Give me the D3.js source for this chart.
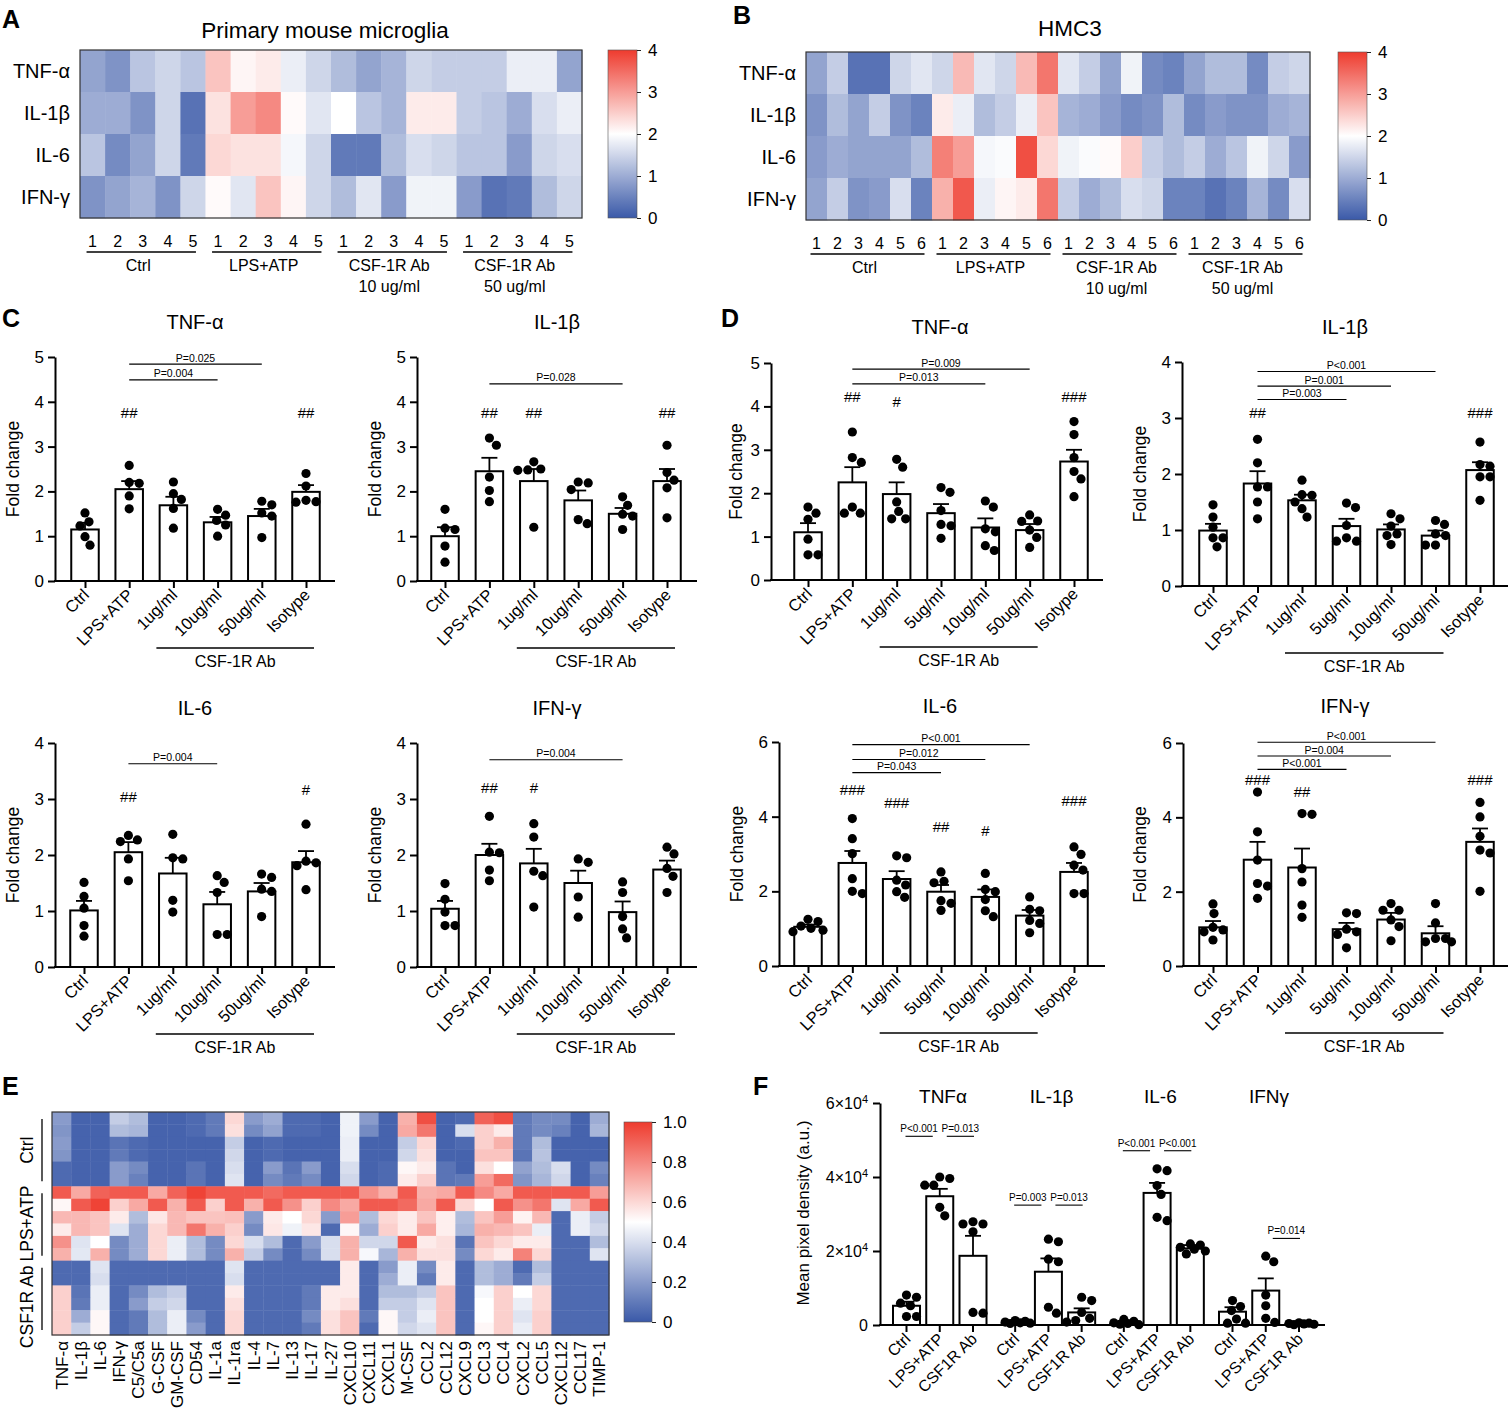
<!DOCTYPE html>
<html>
<head>
<meta charset="utf-8">
<script src="https://cdn.jsdelivr.net/npm/d3@7/dist/d3.min.js"></script>
<style>
  body { margin: 0; background: #fff; }
  svg { font-family: Arial, "Liberation Sans", Helvetica, sans-serif; }
</style>
</head>
<body>
<svg id="fig" width="1510" height="1418"></svg>
<script>
// ---------- data: panels A / B (fold change heatmaps) ----------
var heatRows = ["TNF-α", "IL-1β", "IL-6", "IFN-γ"];
var heatGroups = [["Ctrl"], ["LPS+ATP"], ["CSF-1R Ab", "10 ug/ml"], ["CSF-1R Ab", "50 ug/ml"]];
var mouseReps = ["1", "2", "3", "4", "5"];
var hmc3Reps = ["1", "2", "3", "4", "5", "6"];
var foldTicks = [0, 1, 2, 3, 4];

var mouseHeat = [
  [0.9, 0.7, 1.3, 1.5, 1.3, 2.6, 2.1, 2.2, 1.8, 1.5, 1.2, 0.9, 1.1, 1.5, 1.4, 1.4, 1.4, 1.8, 1.8, 0.9],
  [1.0, 1.0, 0.7, 1.5, 0.3, 2.3, 3.0, 3.2, 2.05, 1.7, 2.0, 1.3, 1.1, 2.2, 2.2, 1.4, 1.3, 1.0, 1.6, 1.8],
  [1.3, 0.6, 0.9, 1.5, 0.4, 2.4, 2.3, 2.3, 1.9, 1.5, 0.4, 0.4, 1.2, 1.6, 1.5, 1.3, 1.3, 0.8, 1.5, 1.6],
  [0.7, 0.9, 1.1, 0.7, 1.5, 2.05, 1.7, 2.6, 2.1, 1.5, 1.2, 1.7, 0.8, 1.85, 1.85, 0.8, 0.3, 0.4, 1.2, 1.5]
];
var hmc3Heat = [
  [0.9, 1.4, 0.3, 0.3, 1.5, 1.7, 1.5, 2.7, 1.7, 1.5, 2.7, 3.4, 1.7, 1.4, 0.9, 1.85, 0.6, 0.5, 0.9, 1.2, 1.2, 0.6, 1.4, 1.5],
  [0.7, 1.2, 0.9, 1.4, 0.7, 0.5, 2.2, 1.8, 1.2, 1.4, 1.8, 2.6, 1.1, 1.0, 0.8, 0.6, 0.7, 1.2, 0.6, 0.8, 0.7, 0.7, 1.0, 1.1],
  [0.8, 1.0, 0.9, 0.9, 0.9, 1.2, 3.3, 3.0, 1.9, 1.95, 3.8, 2.4, 1.85, 1.95, 2.05, 2.5, 1.4, 1.2, 1.4, 1.0, 1.3, 1.85, 1.5, 0.8],
  [0.9, 1.4, 0.7, 0.8, 1.6, 0.5, 2.8, 3.7, 1.8, 2.1, 2.2, 3.4, 1.4, 1.0, 1.2, 1.6, 1.5, 0.5, 0.5, 0.3, 0.5, 1.1, 0.6, 1.6]
];

// ---------- data: panel C (primary mouse microglia) ----------
var cCats = ["Ctrl", "LPS+ATP", "1ug/ml", "10ug/ml", "50ug/ml", "Isotype"];

var cTnfMean = [1.15, 2.05, 1.69, 1.31, 1.45, 1.99];
var cTnfSem = [0.15, 0.18, 0.19, 0.12, 0.16, 0.15];
var cTnfPts = [[1.52, 1.32, 1.23, 0.99, 0.80], [2.58, 2.20, 2.18, 1.90, 1.61], [2.21, 1.95, 1.82, 1.62, 1.18],
  [1.60, 1.47, 1.35, 1.25, 1.00], [1.78, 1.70, 1.52, 1.45, 0.97], [2.40, 2.12, 1.80, 1.77, 1.76]];
var cTnfHash = [[1, "##", 3.77], [5, "##", 3.77]];
var cTnfP = [[1, 4, 4.84, "P=0.025"], [1, 3, 4.49, "P=0.004"]];

var cIl1bMean = [1.0, 2.45, 2.23, 1.8, 1.5, 2.23];
var cIl1bSem = [0.2, 0.3, 0.27, 0.22, 0.13, 0.27];
var cIl1bPts = [[1.60, 1.18, 1.15, 0.78, 0.42], [3.19, 3.03, 2.32, 2.02, 1.77], [2.66, 2.50, 2.48, 2.47, 1.20],
  [2.21, 2.19, 2.04, 1.37, 1.28], [1.88, 1.69, 1.49, 1.45, 1.15], [3.03, 2.42, 2.25, 2.08, 1.41]];
var cIl1bHash = [[1, "##", 3.77], [2, "##", 3.77], [5, "##", 3.77]];
var cIl1bP = [[1, 4, 4.4, "P=0.028"]];

var cIl6Mean = [1.01, 2.05, 1.67, 1.12, 1.35, 1.87];
var cIl6Sem = [0.17, 0.18, 0.28, 0.22, 0.15, 0.2];
var cIl6Pts = [[1.51, 1.26, 1.05, 0.74, 0.55], [2.35, 2.27, 2.24, 1.93, 1.54], [2.37, 1.95, 1.93, 1.19, 0.98],
  [1.63, 1.51, 1.33, 0.58, 0.58], [1.66, 1.60, 1.39, 1.35, 0.90], [2.55, 1.89, 1.86, 1.81, 1.38]];
var cIl6Hash = [[1, "##", 3.04], [5, "#", 3.17]];
var cIl6P = [[1, 3, 3.63, "P=0.004"]];

var cIfngMean = [1.04, 2.0, 1.85, 1.5, 0.98, 1.74];
var cIfngSem = [0.14, 0.2, 0.26, 0.22, 0.19, 0.16];
var cIfngPts = [[1.49, 1.21, 0.98, 0.74, 0.74], [2.69, 2.05, 2.04, 1.73, 1.54], [2.56, 2.32, 1.71, 1.63, 1.07],
  [1.93, 1.87, 1.25, 0.89], [1.52, 1.33, 0.90, 0.68, 0.52], [2.14, 2.02, 1.76, 1.62, 1.33]];
var cIfngHash = [[1, "##", 3.2], [2, "#", 3.2]];
var cIfngP = [[1, 4, 3.7, "P=0.004"]];

// ---------- data: panel D (HMC3) ----------
var dCats = ["Ctrl", "LPS+ATP", "1ug/ml", "5ug/ml", "10ug/ml", "50ug/ml", "Isotype"];

var dTnfMean = [1.1, 2.25, 1.98, 1.54, 1.21, 1.15, 2.73];
var dTnfSem = [0.21, 0.35, 0.27, 0.21, 0.21, 0.14, 0.27];
var dTnfPts = [[1.68, 1.54, 1.40, 0.94, 0.58, 0.58], [3.41, 2.82, 2.71, 1.68, 1.54, 1.54], [2.78, 2.60, 1.80, 1.58, 1.41, 1.41],
  [2.13, 2.02, 1.60, 1.28, 1.25, 0.96], [1.82, 1.68, 1.18, 1.11, 0.79, 0.68], [1.50, 1.36, 1.35, 1.15, 0.98, 0.75],
  [3.65, 3.35, 2.82, 2.50, 2.33, 1.92]];
var dTnfHash = [[1, "##", 4.23], [2, "#", 4.1], [6, "###", 4.23]];
var dTnfP = [[1, 5, 4.86, "P=0.009"], [1, 4, 4.52, "P=0.013"]];

var dIl1bMean = [0.99, 1.83, 1.53, 1.07, 1.01, 0.9, 2.07];
var dIl1bSem = [0.12, 0.22, 0.1, 0.13, 0.09, 0.09, 0.14];
var dIl1bPts = [[1.45, 1.23, 1.05, 0.86, 0.86, 0.70], [2.62, 2.20, 1.77, 1.77, 1.50, 1.20], [1.89, 1.63, 1.62, 1.50, 1.38, 1.23],
  [1.48, 1.40, 1.08, 0.86, 0.80, 0.80], [1.29, 1.20, 1.07, 0.93, 0.90, 0.74], [1.17, 1.10, 0.93, 0.90, 0.73, 0.73],
  [2.57, 2.17, 2.14, 1.95, 1.95, 1.53]];
var dIl1bHash = [[1, "##", 3.09], [6, "###", 3.09]];
var dIl1bP = [[1, 5, 3.83, "P<0.001"], [1, 4, 3.57, "P=0.001"], [1, 3, 3.33, "P=0.003"]];

var dIl6Mean = [1.05, 2.76, 2.33, 1.99, 1.85, 1.35, 2.52];
var dIl6Sem = [0.06, 0.32, 0.21, 0.18, 0.2, 0.15, 0.24];
var dIl6Pts = [[1.25, 1.19, 1.07, 1.01, 0.96, 0.92], [3.95, 3.41, 3.01, 2.34, 2.00, 1.94], [2.95, 2.90, 2.30, 2.17, 1.99, 1.84],
  [2.52, 2.27, 2.23, 1.75, 1.68, 1.49], [2.48, 2.05, 1.99, 1.78, 1.48, 1.32], [1.85, 1.52, 1.48, 1.22, 1.14, 0.89],
  [3.19, 2.99, 2.70, 2.57, 1.94, 1.94]];
var dIl6Hash = [[1, "###", 4.73], [2, "###", 4.39], [3, "##", 3.74], [4, "#", 3.64], [6, "###", 4.42]];
var dIl6P = [[1, 5, 5.93, "P<0.001"], [1, 4, 5.53, "P=0.012"], [1, 3, 5.18, "P=0.043"]];

var dIfngMean = [1.04, 2.86, 2.65, 0.99, 1.25, 0.88, 3.34];
var dIfngSem = [0.17, 0.48, 0.51, 0.17, 0.18, 0.19, 0.36];
var dIfngPts = [[1.67, 1.41, 1.04, 0.97, 0.92, 0.70], [4.68, 3.61, 2.85, 2.22, 2.15, 1.82], [4.10, 4.08, 2.62, 2.26, 1.64, 1.31],
  [1.43, 1.41, 0.99, 0.92, 0.85, 0.49], [1.68, 1.50, 1.50, 1.24, 1.06, 0.68], [1.68, 1.16, 0.74, 0.74, 0.65, 0.65],
  [4.40, 4.01, 3.49, 3.12, 3.04, 2.01]];
var dIfngHash = [[1, "###", 5.01], [2, "##", 4.68], [6, "###", 5.01]];
var dIfngP = [[1, 5, 6.02, "P<0.001"], [1, 4, 5.65, "P=0.004"], [1, 3, 5.29, "P<0.001"]];

// ---------- data: panel E (cytokine array, normalised) ----------
var eCols = ["TNF-α", "IL-1β", "IL-6", "IFN-γ", "C5/C5a", "G-CSF", "GM-CSF", "CD54", "IL-1a", "IL-1ra", "IL-4", "IL-7",
  "IL-13", "IL-17", "IL-27", "CXCL10", "CXCL11", "CXCL1", "M-CSF", "CCL2", "CCL12", "CXCL9", "CCL3", "CCL4",
  "CXCL2", "CCL5", "CXCL12", "CCL17", "TIMP-1"];
var eGroups = ["Ctrl", "LPS+ATP", "CSF1R Ab"];
var eTicks = [0, 0.2, 0.4, 0.6, 0.8, 1.0];
var eHeat = [
  [0.2, 0.03, 0.03, 0.35, 0.3, 0.03, 0.03, 0.05, 0.1, 0.6, 0.2, 0.25, 0.05, 0.05, 0.03, 0.46, 0.2, 0.03, 0.7, 0.95, 0.03, 0.05, 0.9, 0.95, 0.1, 0.15, 0.15, 0.03, 0.25],
  [0.18, 0.03, 0.03, 0.3, 0.28, 0.03, 0.03, 0.05, 0.1, 0.58, 0.15, 0.22, 0.05, 0.05, 0.03, 0.46, 0.15, 0.03, 0.72, 0.85, 0.03, 0.4, 0.62, 0.55, 0.1, 0.15, 0.12, 0.03, 0.28],
  [0.2, 0.03, 0.03, 0.08, 0.05, 0.03, 0.03, 0.03, 0.03, 0.35, 0.03, 0.05, 0.03, 0.03, 0.03, 0.45, 0.03, 0.03, 0.35, 0.6, 0.03, 0.05, 0.62, 0.7, 0.1, 0.3, 0.03, 0.03, 0.03],
  [0.18, 0.03, 0.03, 0.1, 0.05, 0.03, 0.03, 0.03, 0.03, 0.38, 0.03, 0.05, 0.03, 0.03, 0.03, 0.45, 0.03, 0.03, 0.38, 0.58, 0.03, 0.03, 0.65, 0.65, 0.08, 0.32, 0.03, 0.03, 0.03],
  [0.05, 0.03, 0.03, 0.2, 0.15, 0.03, 0.03, 0.08, 0.03, 0.4, 0.03, 0.2, 0.08, 0.2, 0.03, 0.4, 0.03, 0.05, 0.52, 0.55, 0.08, 0.03, 0.58, 0.5, 0.22, 0.3, 0.4, 0.03, 0.15],
  [0.05, 0.03, 0.03, 0.2, 0.12, 0.03, 0.03, 0.08, 0.03, 0.42, 0.03, 0.15, 0.1, 0.15, 0.03, 0.38, 0.03, 0.05, 0.55, 0.62, 0.08, 0.1, 0.75, 0.88, 0.18, 0.28, 0.38, 0.03, 0.12],
  [0.92, 0.72, 0.9, 0.92, 0.92, 0.72, 0.9, 0.98, 0.92, 0.92, 0.92, 0.88, 0.92, 0.92, 0.92, 0.92, 0.78, 0.7, 0.92, 0.7, 0.72, 0.92, 0.8, 0.72, 0.92, 0.92, 0.92, 0.92, 0.75],
  [0.52, 0.92, 0.98, 0.62, 0.72, 0.92, 0.7, 0.92, 0.62, 0.92, 0.7, 0.92, 0.78, 0.62, 0.8, 0.72, 0.92, 0.92, 0.88, 0.72, 0.92, 0.6, 0.5, 0.92, 0.78, 0.85, 0.42, 0.72, 0.92],
  [0.68, 0.68, 0.65, 0.55, 0.3, 0.56, 0.68, 0.65, 0.65, 0.66, 0.2, 0.55, 0.5, 0.6, 0.2, 0.75, 0.3, 0.6, 0.55, 0.65, 0.54, 0.3, 0.65, 0.75, 0.53, 0.68, 0.05, 0.45, 0.35],
  [0.55, 0.68, 0.65, 0.42, 0.25, 0.6, 0.68, 0.85, 0.7, 0.62, 0.15, 0.56, 0.46, 0.56, 0.05, 0.52, 0.25, 0.62, 0.55, 0.72, 0.54, 0.28, 0.7, 0.68, 0.65, 0.45, 0.05, 0.45, 0.38],
  [0.78, 0.42, 0.5, 0.15, 0.25, 0.6, 0.45, 0.3, 0.15, 0.6, 0.4, 0.3, 0.05, 0.2, 0.4, 0.7, 0.38, 0.38, 0.92, 0.55, 0.58, 0.08, 0.65, 0.6, 0.55, 0.55, 0.05, 0.05, 0.3],
  [0.7, 0.43, 0.7, 0.15, 0.25, 0.6, 0.45, 0.3, 0.15, 0.7, 0.35, 0.15, 0.05, 0.15, 0.4, 0.7, 0.48, 0.28, 0.7, 0.58, 0.58, 0.15, 0.6, 0.55, 0.82, 0.6, 0.05, 0.05, 0.42],
  [0.05, 0.05, 0.42, 0.05, 0.05, 0.05, 0.05, 0.05, 0.05, 0.42, 0.05, 0.05, 0.05, 0.05, 0.05, 0.55, 0.05, 0.2, 0.45, 0.15, 0.55, 0.05, 0.3, 0.25, 0.05, 0.3, 0.05, 0.05, 0.05],
  [0.05, 0.05, 0.4, 0.05, 0.05, 0.05, 0.05, 0.05, 0.05, 0.4, 0.05, 0.05, 0.05, 0.05, 0.05, 0.55, 0.05, 0.25, 0.45, 0.1, 0.55, 0.05, 0.3, 0.25, 0.1, 0.35, 0.05, 0.05, 0.05],
  [0.62, 0.08, 0.45, 0.05, 0.15, 0.3, 0.35, 0.05, 0.05, 0.55, 0.05, 0.05, 0.05, 0.1, 0.55, 0.55, 0.05, 0.3, 0.3, 0.35, 0.65, 0.05, 0.48, 0.62, 0.5, 0.6, 0.05, 0.05, 0.05],
  [0.62, 0.1, 0.45, 0.05, 0.2, 0.35, 0.38, 0.05, 0.05, 0.58, 0.05, 0.05, 0.05, 0.1, 0.55, 0.58, 0.05, 0.35, 0.35, 0.42, 0.65, 0.05, 0.5, 0.62, 0.45, 0.6, 0.05, 0.05, 0.05],
  [0.62, 0.25, 0.52, 0.05, 0.1, 0.3, 0.45, 0.15, 0.05, 0.6, 0.05, 0.05, 0.05, 0.15, 0.58, 0.65, 0.1, 0.52, 0.35, 0.45, 0.65, 0.05, 0.5, 0.62, 0.42, 0.62, 0.05, 0.05, 0.05],
  [0.62, 0.35, 0.52, 0.05, 0.1, 0.3, 0.45, 0.2, 0.05, 0.6, 0.05, 0.05, 0.05, 0.1, 0.58, 0.65, 0.05, 0.52, 0.38, 0.42, 0.65, 0.05, 0.52, 0.62, 0.45, 0.62, 0.05, 0.05, 0.05]
];

// ---------- data: panel F (mean pixel density) ----------
var fGroups = ["TNFα", "IL-1β", "IL-6", "IFNγ"];
var fCats = ["Ctrl", "LPS+ATP", "CSF1R Ab"];
var fTicks = [0, 20000, 40000, 60000];
var fMean = [[5200, 34800, 18700], [500, 14400, 3400], [300, 35700, 20700], [3600, 9300, 300]];
var fSem = [[1100, 2000, 5400], [200, 3600, 1100], [200, 2700, 900], [1200, 3300, 100]];
var fPts = [
  [[8100, 7500, 5900, 5200, 2300, 2300], [40000, 39600, 37800, 37800, 31800, 29500], [27900, 27300, 27300, 25200, 3400, 3200]],
  [[1200, 1000, 800, 600, 500, 400], [23200, 22500, 17800, 17100, 4800, 3200], [7500, 6600, 3400, 1800, 1200, 800]],
  [[1500, 1000, 600, 400, 200, 100], [42200, 41700, 37700, 35300, 29100, 28200], [21900, 21600, 21000, 20500, 20000, 19200]],
  [[6600, 5000, 3900, 1600, 500, 500], [18600, 17100, 8100, 5200, 1800, 700], [600, 500, 400, 300, 200, 100]]
];
var fP = [[0, 0, 1, 51000, "P<0.001"], [0, 1, 2, 51000, "P=0.013"], [1, 0, 1, 32400, "P=0.003"], [1, 1, 2, 32400, "P=0.013"],
  [2, 0, 1, 47100, "P<0.001"], [2, 1, 2, 47100, "P<0.001"], [3, 1, 2, 23400, "P=0.014"]];

// ---------- drawing ----------
var svg = d3.select("#fig");
var BLUE = "#3a59a8", RED = "#ee3b2e";
var DOT_R = 4.6, BAR_W = 27.5;

function panelLabel(t, x, y) {
  svg.append("text").attr("x", x).attr("y", y).attr("font-size", 25).attr("font-weight", "bold").text(t);
}

function colorbar(id, x0, w, yRange, color, domain, ticks, fmt) {
  var s = d3.scaleLinear().domain(domain).range(yRange);
  var grad = svg.append("defs").append("linearGradient").attr("id", id)
    .attr("x1", 0).attr("y1", 1).attr("x2", 0).attr("y2", 0);
  d3.range(0, 1.0001, 0.05).forEach(function(t) {
    grad.append("stop").attr("offset", t).attr("stop-color", color(domain[0] + t * (domain[1] - domain[0])));
  });
  svg.append("rect").attr("x", x0).attr("y", yRange[1]).attr("width", w).attr("height", yRange[0] - yRange[1])
    .attr("fill", "url(#" + id + ")").attr("stroke", "#555").attr("stroke-width", 0.6);
  var ax = svg.append("g").attr("transform", "translate(" + (x0 + w) + ",0)")
    .call(d3.axisRight(s).tickValues(ticks).tickSize(4).tickPadding(7).tickSizeOuter(0).tickFormat(fmt));
  ax.select(".domain").remove();
  ax.selectAll("text").attr("font-size", 17).attr("font-family", null).attr("fill", "#000");
  ax.selectAll("line").attr("stroke", "#222");
}

function foldHeat(vals, reps, xr, yr, cbX, gid) {
  var color = d3.scaleLinear().domain([0, 2, 4]).range([BLUE, "#ffffff", RED]).clamp(true);
  var x = d3.scaleBand().domain(d3.range(vals[0].length)).range(xr);
  var y = d3.scaleBand().domain(heatRows).range(yr);
  var g = svg.append("g");
  vals.forEach(function(row, r) {
    g.selectAll(null).data(row).enter().append("rect")
      .attr("x", function(d, i) { return x(i); })
      .attr("y", y(heatRows[r]))
      .attr("width", x.bandwidth() + 0.4).attr("height", y.bandwidth() + 0.4)
      .attr("fill", function(d) { return color(d); });
  });
  g.append("rect").attr("x", xr[0]).attr("y", yr[0]).attr("width", xr[1] - xr[0]).attr("height", yr[1] - yr[0])
    .attr("fill", "none").attr("stroke", "#333").attr("stroke-width", 1.2);
  heatRows.forEach(function(name) {
    g.append("text").attr("x", xr[0] - 10).attr("y", y(name) + y.bandwidth() / 2).attr("dy", "0.36em")
      .attr("text-anchor", "end").attr("font-size", 20).text(name);
  });
  var n = reps.length;
  vals[0].forEach(function(v, i) {
    g.append("text").attr("x", x(i) + x.bandwidth() / 2).attr("y", yr[1] + 29)
      .attr("text-anchor", "middle").attr("font-size", 16).text(reps[i % n]);
  });
  heatGroups.forEach(function(lab, gi) {
    var a = x(gi * n) + x.bandwidth() / 2 - 6, b = x(gi * n + n - 1) + x.bandwidth() / 2 + 3;
    g.append("line").attr("x1", a).attr("x2", b).attr("y1", yr[1] + 34).attr("y2", yr[1] + 34)
      .attr("stroke", "#000").attr("stroke-width", 1.3);
    lab.forEach(function(t, li) {
      g.append("text").attr("x", (a + b) / 2 - 3).attr("y", yr[1] + 53 + li * 21)
        .attr("text-anchor", "middle").attr("font-size", 16).text(t);
    });
  });
  colorbar(gid, cbX, 29, [yr[1], yr[0]], color, [0, 4], foldTicks, d3.format("d"));
}

// horizontal spread of dots: free slot nearest the centre, else the least crowded slot within the cap
function swarm(vals, y, r, cap) {
  var order = d3.range(vals.length).sort(function(a, b) { return vals[b] - vals[a]; });
  var placed = [], offs = [];
  var need = 2 * r + 0.5;
  order.forEach(function(i) {
    var py = y(vals[i]), best = 0, bestD = -1, found = false;
    for (var k = 0; k <= 2 * cap; k++) {
      var dx = (k % 2 ? 1 : -1) * Math.ceil(k / 2);
      var md = placed.reduce(function(m, p) {
        return Math.min(m, Math.hypot(p.x - dx, p.y - py));
      }, Infinity);
      if (md >= need) { best = dx; found = true; break; }
      if (md > bestD + 0.01) { bestD = md; best = dx; }
    }
    placed.push({x: best, y: py});
    offs[i] = best;
  });
  return offs;
}

function styleAxis(sel) {
  sel.selectAll(".domain").attr("stroke", "#000").attr("stroke-width", 2);
  sel.selectAll(".tick line").attr("stroke", "#000").attr("stroke-width", 2);
  sel.selectAll("text").attr("font-family", null).attr("fill", "#000");
}

function barPanel(o) {
  var g = svg.append("g");
  var y = d3.scaleLinear().domain([0, o.max]).range([o.y0, o.yTop]);
  var x = d3.scalePoint().domain(o.cats).range([o.first, o.last]);
  var cx = function(i) { return x(o.cats[i]); };

  g.append("text").attr("x", o.titleX).attr("y", o.titleY).attr("text-anchor", "middle")
    .attr("font-size", 20).text(o.title);

  o.mean.forEach(function(m, i) {
    g.append("rect").attr("x", cx(i) - BAR_W / 2).attr("y", y(m)).attr("width", BAR_W).attr("height", o.y0 - y(m))
      .attr("fill", "#fff").attr("stroke", "#000").attr("stroke-width", 2);
    var top = y(m + o.sem[i]);
    g.append("line").attr("x1", cx(i)).attr("x2", cx(i)).attr("y1", y(m)).attr("y2", top)
      .attr("stroke", "#000").attr("stroke-width", 1.8);
    g.append("line").attr("x1", cx(i) - 8).attr("x2", cx(i) + 8).attr("y1", top).attr("y2", top)
      .attr("stroke", "#000").attr("stroke-width", 1.8);
  });

  var yAx = g.append("g").attr("transform", "translate(" + o.axisX + ",0)")
    .call(d3.axisLeft(y).tickValues(o.ticks).tickSize(7).tickPadding(4).tickSizeOuter(0).tickFormat(d3.format("d")));
  styleAxis(yAx);
  yAx.selectAll("text").attr("font-size", 17);
  g.append("line").attr("x1", o.axisX - 1).attr("x2", o.xEnd).attr("y1", o.y0).attr("y2", o.y0)
    .attr("stroke", "#000").attr("stroke-width", 2);
  var xAx = g.append("g").attr("transform", "translate(0," + o.y0 + ")")
    .call(d3.axisBottom(x).tickSize(7).tickSizeOuter(0).tickFormat(""));
  xAx.select(".domain").remove();
  styleAxis(xAx);
  o.cats.forEach(function(c, i) {
    g.append("text").attr("text-anchor", "end").attr("font-size", 16.5)
      .attr("transform", "translate(" + (cx(i) + 5) + "," + (o.y0 + 15) + ") rotate(-45)").text(c);
  });
  g.append("text").attr("text-anchor", "middle").attr("font-size", 17.5)
    .attr("transform", "translate(" + o.ylabX + "," + ((o.y0 + o.yTop) / 2) + ") rotate(-90)").text("Fold change");

  var ga = cx(2) - 17, gb = cx(5) + 8;
  g.append("line").attr("x1", ga).attr("x2", gb).attr("y1", o.y0 + 67).attr("y2", o.y0 + 67)
    .attr("stroke", "#000").attr("stroke-width", 1.3);
  g.append("text").attr("x", (ga + gb) / 2).attr("y", o.y0 + 86).attr("text-anchor", "middle")
    .attr("font-size", 16).text("CSF-1R Ab");

  o.pts.forEach(function(vals, i) {
    var offs = swarm(vals, y, DOT_R, 16);
    g.selectAll(null).data(vals).enter().append("circle")
      .attr("cx", function(d, k) { return cx(i) + offs[k]; })
      .attr("cy", function(d) { return y(d); })
      .attr("r", DOT_R).attr("fill", "#000");
  });

  o.hash.forEach(function(h) {
    g.append("text").attr("x", cx(h[0])).attr("y", y(h[2])).attr("dy", "0.36em")
      .attr("text-anchor", "middle").attr("font-size", 15).text(h[1]);
  });
  o.p.forEach(function(p) {
    g.append("line").attr("x1", cx(p[0])).attr("x2", cx(p[1])).attr("y1", y(p[2])).attr("y2", y(p[2]))
      .attr("stroke", "#000").attr("stroke-width", 1.1);
    g.append("text").attr("x", (cx(p[0]) + cx(p[1])) / 2).attr("y", y(p[2]) - 2.5)
      .attr("text-anchor", "middle").attr("font-size", 10.5).text(p[3]);
  });
}

// ---- panel A / B ----
panelLabel("A", 2, 28);
svg.append("text").attr("x", 325).attr("y", 38).attr("text-anchor", "middle").attr("font-size", 22.5)
  .text("Primary mouse microglia");
foldHeat(mouseHeat, mouseReps, [80, 582], [50, 218], 608, "gradA");

panelLabel("B", 733, 24);
svg.append("text").attr("x", 1070).attr("y", 36).attr("text-anchor", "middle").attr("font-size", 22.5).text("HMC3");
foldHeat(hmc3Heat, hmc3Reps, [806, 1310], [52, 220], 1338, "gradB");

// ---- panel C ----
panelLabel("C", 2, 327);
barPanel({title: "TNF-α", titleX: 195, titleY: 329, cats: cCats, mean: cTnfMean, sem: cTnfSem, pts: cTnfPts,
  hash: cTnfHash, p: cTnfP, max: 5, ticks: [0, 1, 2, 3, 4, 5], axisX: 55, y0: 581, yTop: 357,
  first: 85, last: 306, xEnd: 335, ylabX: 19});
barPanel({title: "IL-1β", titleX: 557, titleY: 329, cats: cCats, mean: cIl1bMean, sem: cIl1bSem, pts: cIl1bPts,
  hash: cIl1bHash, p: cIl1bP, max: 5, ticks: [0, 1, 2, 3, 4, 5], axisX: 417, y0: 581, yTop: 357,
  first: 445, last: 667, xEnd: 697, ylabX: 381});
barPanel({title: "IL-6", titleX: 195, titleY: 715, cats: cCats, mean: cIl6Mean, sem: cIl6Sem, pts: cIl6Pts,
  hash: cIl6Hash, p: cIl6P, max: 4, ticks: [0, 1, 2, 3, 4], axisX: 55, y0: 967, yTop: 743,
  first: 84, last: 306, xEnd: 335, ylabX: 19});
barPanel({title: "IFN-γ", titleX: 557, titleY: 715, cats: cCats, mean: cIfngMean, sem: cIfngSem, pts: cIfngPts,
  hash: cIfngHash, p: cIfngP, max: 4, ticks: [0, 1, 2, 3, 4], axisX: 417, y0: 967, yTop: 743,
  first: 445, last: 667, xEnd: 697, ylabX: 381});

// ---- panel D ----
panelLabel("D", 721, 327);
barPanel({title: "TNF-α", titleX: 940, titleY: 334, cats: dCats, mean: dTnfMean, sem: dTnfSem, pts: dTnfPts,
  hash: dTnfHash, p: dTnfP, max: 5, ticks: [0, 1, 2, 3, 4, 5], axisX: 771, y0: 580, yTop: 363,
  first: 808, last: 1074, xEnd: 1103, ylabX: 742});
barPanel({title: "IL-1β", titleX: 1345, titleY: 334, cats: dCats, mean: dIl1bMean, sem: dIl1bSem, pts: dIl1bPts,
  hash: dIl1bHash, p: dIl1bP, max: 4, ticks: [0, 1, 2, 3, 4], axisX: 1182, y0: 586, yTop: 362,
  first: 1213, last: 1480, xEnd: 1508, ylabX: 1146});
barPanel({title: "IL-6", titleX: 940, titleY: 713, cats: dCats, mean: dIl6Mean, sem: dIl6Sem, pts: dIl6Pts,
  hash: dIl6Hash, p: dIl6P, max: 6, ticks: [0, 2, 4, 6], axisX: 779, y0: 966, yTop: 742,
  first: 808, last: 1074, xEnd: 1105, ylabX: 743});
barPanel({title: "IFN-γ", titleX: 1345, titleY: 713, cats: dCats, mean: dIfngMean, sem: dIfngSem, pts: dIfngPts,
  hash: dIfngHash, p: dIfngP, max: 6, ticks: [0, 2, 4, 6], axisX: 1183, y0: 966, yTop: 743,
  first: 1213, last: 1480, xEnd: 1508, ylabX: 1146});

// ---- panel E ----
panelLabel("E", 2, 1095);
(function() {
  var color = d3.scaleLinear().domain([0, 0.5, 1]).range([BLUE, "#ffffff", RED]).clamp(true);
  var x = d3.scaleBand().domain(eCols).range([52, 609]);
  var y = d3.scaleBand().domain(d3.range(eHeat.length)).range([1112, 1335]);
  var g = svg.append("g");
  eHeat.forEach(function(row, r) {
    g.selectAll(null).data(row).enter().append("rect")
      .attr("x", function(d, i) { return x(eCols[i]); }).attr("y", y(r))
      .attr("width", x.bandwidth() + 0.4).attr("height", y.bandwidth() + 0.4)
      .attr("fill", function(d) { return color(d); });
  });
  g.append("rect").attr("x", 52).attr("y", 1112).attr("width", 557).attr("height", 223)
    .attr("fill", "none").attr("stroke", "#333").attr("stroke-width", 1.2);
  eCols.forEach(function(c) {
    g.append("text").attr("text-anchor", "end").attr("font-size", 17)
      .attr("transform", "translate(" + (x(c) + x.bandwidth() / 2 + 6) + ",1341) rotate(-90)").text(c);
  });
  var per = eHeat.length / eGroups.length;
  var labShift = [0, -1, 8];
  eGroups.forEach(function(lab, gi) {
    var a = y(gi * per) + 7, b = y(gi * per + per - 1) + y.bandwidth() - 5;
    g.append("line").attr("x1", 42).attr("x2", 42).attr("y1", a).attr("y2", b)
      .attr("stroke", "#000").attr("stroke-width", 1.3);
    g.append("text").attr("text-anchor", "middle").attr("font-size", 17.5)
      .attr("transform", "translate(33," + ((a + b) / 2 + labShift[gi]) + ") rotate(-90)").text(lab);
  });
  colorbar("gradE", 624, 28, [1322, 1122], color, [0, 1], eTicks,
    function(d) { return d === 0 ? "0" : d.toFixed(1); });
})();

// ---- panel F ----
panelLabel("F", 753, 1095);
(function() {
  var g = svg.append("g");
  var y = d3.scaleLinear().domain([0, 60000]).range([1325, 1103]);
  var gx = d3.scalePoint().domain(fGroups).range([940, 1266]);
  var ix = d3.scalePoint().domain(fCats).range([-33.5, 33]);
  var cx = function(gi, i) { return gx(fGroups[gi]) + ix(fCats[i]); };
  var bw = 27;

  fGroups.forEach(function(grp, gi) {
    g.append("text").attr("x", gx(grp) + 3).attr("y", 1103).attr("text-anchor", "middle")
      .attr("font-size", 19).text(grp);
    fMean[gi].forEach(function(m, i) {
      g.append("rect").attr("x", cx(gi, i) - bw / 2).attr("y", y(m)).attr("width", bw).attr("height", 1325 - y(m))
        .attr("fill", "#fff").attr("stroke", "#000").attr("stroke-width", 2);
      var top = y(m + fSem[gi][i]);
      g.append("line").attr("x1", cx(gi, i)).attr("x2", cx(gi, i)).attr("y1", y(m)).attr("y2", top)
        .attr("stroke", "#000").attr("stroke-width", 1.8);
      g.append("line").attr("x1", cx(gi, i) - 8).attr("x2", cx(gi, i) + 8).attr("y1", top).attr("y2", top)
        .attr("stroke", "#000").attr("stroke-width", 1.8);
    });
  });

  var yAx = g.append("g").attr("transform", "translate(880,0)")
    .call(d3.axisLeft(y).tickValues(fTicks).tickSize(7).tickPadding(5).tickSizeOuter(0));
  styleAxis(yAx);
  yAx.selectAll(".tick text").attr("font-size", 16).each(function(d) {
    var t = d3.select(this).text("");
    if (d === 0) { t.text("0"); return; }
    t.append("tspan").text((d / 10000) + "×10");
    t.append("tspan").attr("dy", "-0.55em").attr("font-size", 11).text("4");
  });
  g.append("line").attr("x1", 879).attr("x2", 1325).attr("y1", 1325).attr("y2", 1325)
    .attr("stroke", "#000").attr("stroke-width", 2);
  g.append("text").attr("text-anchor", "middle").attr("font-size", 17)
    .attr("transform", "translate(809,1213) rotate(-90)").text("Mean pixel density (a.u.)");

  fGroups.forEach(function(grp, gi) {
    fCats.forEach(function(c, i) {
      g.append("line").attr("x1", cx(gi, i)).attr("x2", cx(gi, i)).attr("y1", 1325).attr("y2", 1332)
        .attr("stroke", "#000").attr("stroke-width", 2);
      g.append("text").attr("text-anchor", "end").attr("font-size", 16)
        .attr("transform", "translate(" + (cx(gi, i) + 5) + ",1340) rotate(-45)").text(c);
    });
    fPts[gi].forEach(function(vals, i) {
      var offs = swarm(vals, y, DOT_R, 15);
      g.selectAll(null).data(vals).enter().append("circle")
        .attr("cx", function(d, k) { return cx(gi, i) + offs[k]; })
        .attr("cy", function(d) { return y(d); })
        .attr("r", DOT_R).attr("fill", "#000");
    });
  });

  fP.forEach(function(p) {
    var a = cx(p[0], p[1]) + 3, b = cx(p[0], p[2]) - 3;
    var shift = p[1] === 0 ? -4 : 4;
    g.append("line").attr("x1", a + shift).attr("x2", b + shift).attr("y1", y(p[3])).attr("y2", y(p[3]))
      .attr("stroke", "#000").attr("stroke-width", 1.1);
    g.append("text").attr("x", (a + b) / 2 + shift).attr("y", y(p[3]) - 4).attr("text-anchor", "middle")
      .attr("font-size", 10).text(p[4]);
  });
})();
</script>
</body>
</html>
